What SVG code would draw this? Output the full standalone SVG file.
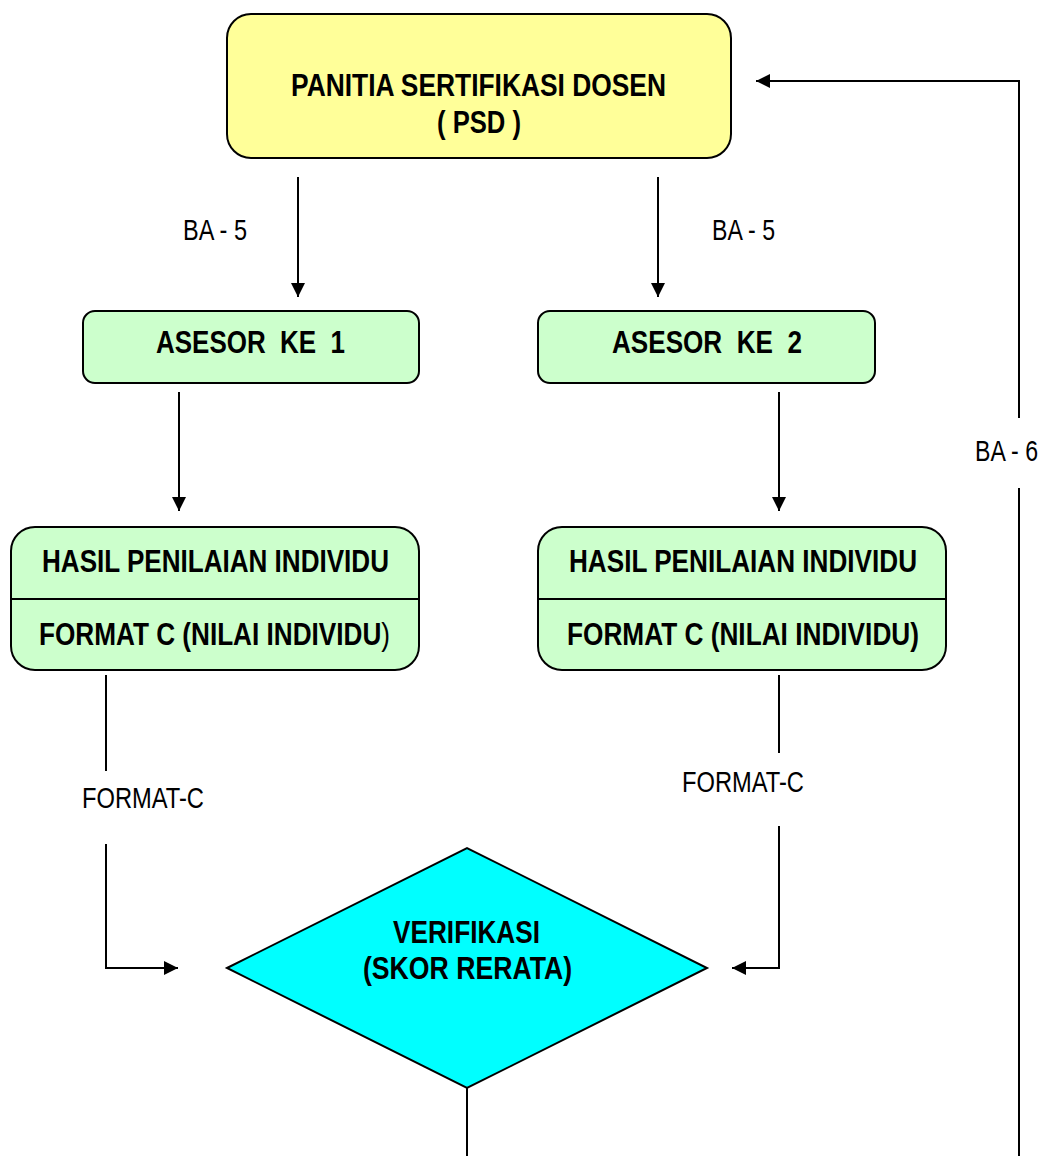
<svg xmlns="http://www.w3.org/2000/svg" width="1044" height="1156" viewBox="0 0 1044 1156">
<style>
.b{font-family:"Liberation Sans",Arial,sans-serif;font-weight:bold;font-size:32px;fill:#000;text-anchor:middle}
.l{font-family:"Liberation Sans",Arial,sans-serif;font-size:30px;fill:#000;text-anchor:middle}
.box{stroke:#000;stroke-width:2}
.c{fill:none;stroke:#000;stroke-width:2}
</style>
<defs>
<marker id="a" viewBox="0 0 14 14" refX="14" refY="7" markerWidth="14" markerHeight="14" orient="auto" markerUnits="userSpaceOnUse">
<path d="M0,0 L14,7 L0,14 z" fill="#000"/>
</marker>
</defs>
<rect width="1044" height="1156" fill="#fff"/>
<g id="connectors">
<line class="c" x1="298" y1="177" x2="298" y2="297" marker-end="url(#a)"/>
<line class="c" x1="658" y1="177" x2="658" y2="297" marker-end="url(#a)"/>
<line class="c" x1="179" y1="392" x2="179" y2="511" marker-end="url(#a)"/>
<line class="c" x1="779" y1="392" x2="779" y2="511" marker-end="url(#a)"/>
<line class="c" x1="106" y1="675" x2="106" y2="771"/>
<polyline class="c" points="106,844 106,968 178,968" marker-end="url(#a)"/>
<line class="c" x1="779" y1="675" x2="779" y2="753"/>
<polyline class="c" points="779,826 779,968 732,968" marker-end="url(#a)"/>
<line class="c" x1="467" y1="1088" x2="467" y2="1156"/>
<line class="c" x1="1019" y1="1156" x2="1019" y2="488"/>
<polyline class="c" points="1019,418 1019,81 756,81" marker-end="url(#a)"/>
<text class="l" x="215" y="240" textLength="64" lengthAdjust="spacingAndGlyphs">BA - 5</text>
<text class="l" x="743.5" y="240" textLength="63" lengthAdjust="spacingAndGlyphs">BA - 5</text>
<text class="l" x="1006.5" y="461" textLength="63" lengthAdjust="spacingAndGlyphs">BA - 6</text>
<text class="l" x="143" y="808" textLength="122" lengthAdjust="spacingAndGlyphs">FORMAT-C</text>
<text class="l" x="743" y="792" textLength="122" lengthAdjust="spacingAndGlyphs">FORMAT-C</text>
</g>
<g id="psd">
<rect class="box" x="227" y="14" width="504" height="144" rx="24" fill="#FFFF99"/>
<text class="b" x="478.5" y="96" textLength="375" lengthAdjust="spacingAndGlyphs">PANITIA SERTIFIKASI DOSEN</text>
<text class="b" x="479" y="133" textLength="84" lengthAdjust="spacingAndGlyphs">( PSD )</text>
</g>
<g id="asesor1">
<rect class="box" x="83" y="311" width="336" height="72" rx="12" fill="#CCFFCC"/>
<text class="b" x="250.5" y="353" textLength="189" lengthAdjust="spacingAndGlyphs" xml:space="preserve">ASESOR  KE  1</text>
</g>
<g id="asesor2">
<rect class="box" x="538" y="311" width="337" height="72" rx="12" fill="#CCFFCC"/>
<text class="b" x="707" y="353" textLength="190" lengthAdjust="spacingAndGlyphs" xml:space="preserve">ASESOR  KE  2</text>
</g>
<g id="hasil1">
<rect class="box" x="11" y="527" width="408" height="143" rx="24" fill="#CCFFCC"/>
<line class="c" x1="11" y1="599" x2="419" y2="599"/>
<text class="b" x="215.5" y="572" textLength="347" lengthAdjust="spacingAndGlyphs">HASIL PENILAIAN INDIVIDU</text>
<text class="b" x="214.5" y="645" textLength="351" lengthAdjust="spacingAndGlyphs">FORMAT C (NILAI INDIVIDU<tspan font-weight="normal">)</tspan></text>
</g>
<g id="hasil2">
<rect class="box" x="538" y="527" width="408" height="143" rx="24" fill="#CCFFCC"/>
<line class="c" x1="538" y1="599" x2="946" y2="599"/>
<text class="b" x="743" y="572" textLength="348" lengthAdjust="spacingAndGlyphs">HASIL PENILAIAN INDIVIDU</text>
<text class="b" x="743" y="645" textLength="352" lengthAdjust="spacingAndGlyphs">FORMAT C (NILAI INDIVIDU)</text>
</g>
<g id="verifikasi">
<polygon class="box" points="227,968 467,848 707,968 467,1088" fill="#00FFFF"/>
<text class="b" x="466.5" y="943" textLength="147" lengthAdjust="spacingAndGlyphs">VERIFIKASI</text>
<text class="b" x="467.5" y="979" textLength="209" lengthAdjust="spacingAndGlyphs">(SKOR RERATA)</text>
</g>
</svg>
